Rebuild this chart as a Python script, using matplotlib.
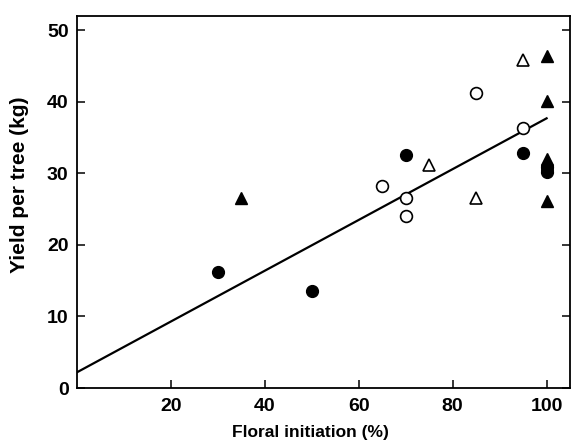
import matplotlib
matplotlib.use('Agg')
import matplotlib.pyplot as plt
import numpy as np

plt.rcParams['font.family'] = ['Liberation Sans', 'DejaVu Sans']
plt.rcParams['font.weight'] = 'bold'

# filled circles
fc_x = [30, 50, 70, 95, 100, 100]
fc_y = [16.2, 13.6, 32.6, 32.8, 30.9, 30.2]
# open circles
oc_x = [65, 70, 70, 85, 95]
oc_y = [28.3, 26.6, 24.0, 41.2, 36.4]
# open triangles
ot_x = [75, 85, 95]
ot_y = [31.2, 26.5, 45.8]
# filled triangles
ft_x = [35, 100, 100, 100, 100, 100]
ft_y = [26.6, 46.4, 40.1, 32.0, 31.3, 26.1]

# regression line
line_x = [0, 100]
line_y = [2.2, 37.7]

fig = plt.figure(figsize=(5.77, 4.45), dpi=100)
ax = fig.add_axes([0.1334, 0.128, 0.988 - 0.1334, 0.964 - 0.128])

ax.plot(line_x, line_y, color='black', linewidth=1.6, zorder=2)
ax.plot(oc_x, oc_y, 'o', markersize=8.5, markerfacecolor='white',
        markeredgecolor='black', markeredgewidth=1.2, zorder=3)
ax.plot(fc_x, fc_y, 'o', markersize=8.5, color='black', zorder=3)
ax.plot(ot_x, ot_y, '^', markersize=8.5, markerfacecolor='white',
        markeredgecolor='black', markeredgewidth=1.2, zorder=3)
ax.plot(ft_x, ft_y, '^', markersize=8.5, color='black', zorder=3)

ax.set_xlim(0, 105)
ax.set_ylim(0, 52)
ax.set_xticks([20, 40, 60, 80, 100])
ax.set_yticks([0, 10, 20, 30, 40, 50])

for s in ax.spines.values():
    s.set_linewidth(1.3)

ax.tick_params(axis='both', direction='in', length=5.5, width=1.1,
               labelsize=14, right=True)
ax.tick_params(axis='x', pad=7)
ax.tick_params(axis='y', pad=6)
for lab in ax.get_xticklabels() + ax.get_yticklabels():
    lab.set_fontweight('bold')

ax.set_xlabel('Floral initiation (%)', fontsize=12.5, fontweight='bold')
ax.set_ylabel('Yield per tree (kg)', fontsize=15, fontweight='bold')
ax.xaxis.set_label_coords(0.473, -0.1)
ax.yaxis.set_label_coords(-0.097, 0.546)

fig.savefig('out.png', dpi=100)
